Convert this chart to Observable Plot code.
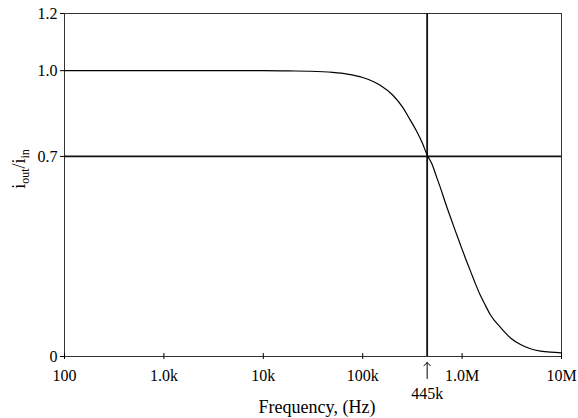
<!DOCTYPE html>
<html><head><meta charset="utf-8">
<script src="https://cdn.jsdelivr.net/npm/d3@7"></script>
<script src="https://cdn.jsdelivr.net/npm/@observablehq/plot@0.6"></script>
<style>
body{margin:0;background:#fff}
svg text, svg tspan { font-family: "Liberation Serif", "Times New Roman", serif !important; }
</style>
</head><body><div id="chart"></div>
<script>
const freqs = [100, 1000, 10000, 18000, 30000, 50000, 70000, 100000, 150000, 200000, 250000, 300000, 350000, 400000, 445000, 500000, 550000, 607000, 680000, 764000, 860000, 964000, 1080000, 1220000, 1360000, 1530000, 1720000, 1930000, 2430000, 3070000, 3870000, 4870000, 6150000, 7740000, 10000000];
const ratio = [1.0, 1.0, 1.0, 0.999, 0.998, 0.994, 0.988, 0.976, 0.949, 0.915, 0.874, 0.828, 0.787, 0.745, 0.705, 0.672, 0.631, 0.589, 0.537, 0.487, 0.437, 0.39, 0.344, 0.297, 0.255, 0.213, 0.178, 0.145, 0.102, 0.065, 0.042, 0.027, 0.019, 0.015, 0.013];
const xTicks = [100, 1000, 10000, 100000, 1000000, 10000000];
const xTickLabels = ["100", "1.0k", "10k", "100k", "1.0M", "10M"];
const yTicks = [0, 0.7, 1.0, 1.2];
const yTickLabels = ["0", "0.7", "1.0", "1.2"];
const cornerFreq = [445000];
const cornerLabel = ["445k"];
const halfPower = [0.7];
const xLabel = "Frequency, (Hz)";

const data = freqs.map((f, i) => ({f, r: ratio[i]}));

const chart = Plot.plot({
  width: 578,
  height: 418,
  marginLeft: 64,
  marginRight: 17,
  marginTop: 13,
  marginBottom: 62,
  style: {fontFamily: "Liberation Serif, serif", fontSize: "16px", background: "#fff", color: "#000"},
  x: {type: "log", domain: [100, 10000000]},
  y: {domain: [0, 1.2]},
  marks: [
    Plot.frame({stroke: "#333", strokeWidth: 1}),
    Plot.ruleY(halfPower, {stroke: "#111", strokeWidth: 1.8}),
    Plot.ruleX(cornerFreq, {stroke: "#111", strokeWidth: 1.8}),
    Plot.line(data, {x: "f", y: "r", stroke: "#000", strokeWidth: 1.2, curve: "monotone-x"}),
    Plot.ruleX(xTicks, {y1: 0, y2: 0, insetTop: -3, insetBottom: -3, stroke: "#000"}),
    Plot.axisX(xTicks, {tickSize: 0, tickPadding: 13, tickFormat: (d) => xTickLabels[xTicks.indexOf(d)], fontSize: 16, label: null}),
    Plot.axisY(yTicks, {tickSize: 4, tickPadding: 3, tickFormat: (d) => yTickLabels[yTicks.indexOf(d)], fontSize: 16, label: null}),
    Plot.vector(cornerFreq, {x: (d) => d, y: 0, length: 16, rotate: 0, anchor: "end", shape: "arrow", dy: 6, stroke: "#000", strokeWidth: 1}),
    Plot.text(cornerFreq, {x: (d) => d, y: 0, text: (d, i) => cornerLabel[i], dy: 37, fontSize: 16, lineAnchor: "middle"}),
    Plot.text([xLabel], {frameAnchor: "bottom", text: (d) => d, dy: 51, dx: 4, fontSize: 18, lineAnchor: "middle"})
  ]
});
document.getElementById("chart").appendChild(chart);

const svg = d3.select(chart);
const lab = svg.append("text")
  .attr("transform", "translate(25,169) rotate(-90)")
  .attr("text-anchor", "middle")
  .attr("font-size", 18)
  .attr("fill", "#000");
lab.append("tspan").text("i");
lab.append("tspan").attr("font-size", 12).attr("dy", 4).text("out");
lab.append("tspan").attr("dy", -4).text("/i");
lab.append("tspan").attr("font-size", 12).attr("dy", 4).text("in");
</script>
</body></html>
